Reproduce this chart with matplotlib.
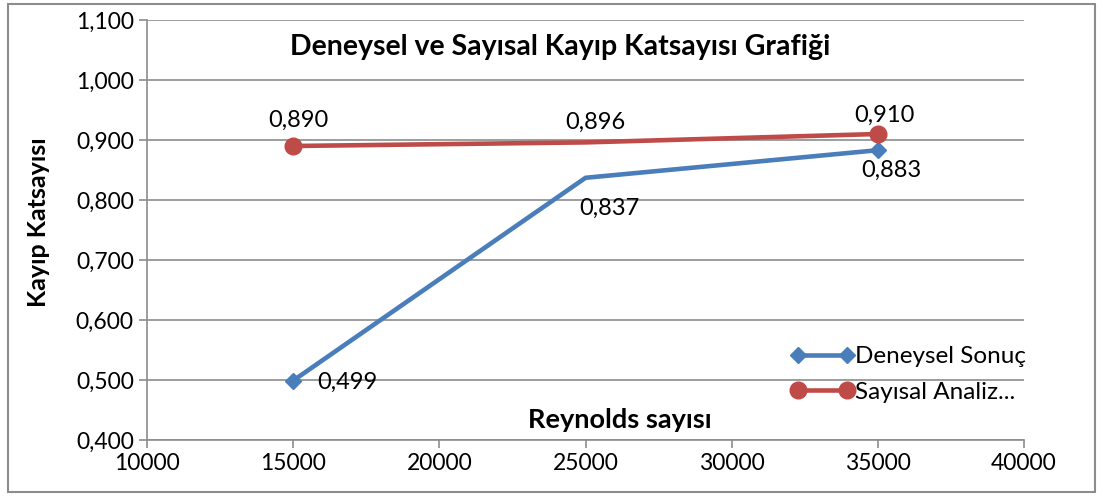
import matplotlib.pyplot as plt
from matplotlib.patches import Rectangle
from matplotlib.ticker import FuncFormatter

reynolds = [15000, 25000, 35000]
deneysel = [0.499, 0.837, 0.883]
sayisal = [0.890, 0.896, 0.910]
x_ticks = [10000, 15000, 20000, 25000, 30000, 35000, 40000]
y_ticks = [0.4, 0.5, 0.6, 0.7, 0.8, 0.9, 1.0, 1.1]

plt.rcParams['font.family'] = ['Lato', 'DejaVu Sans']

blue = '#4A7EBB'
red = '#BE4B48'
grid = '#8C8C8C'

fig = plt.figure(figsize=(11.03, 4.96), dpi=100)
ax = fig.add_axes([0.1333, 0.1129, 0.7951, 0.8468])

ax.plot(reynolds, deneysel, color=blue, lw=3.3, marker='D', ms=8, markevery=[0, 2],
        label='Deneysel Sonuç', zorder=3)
ax.plot(reynolds, sayisal, color=red, lw=3.3, marker='o', ms=12, markevery=[0, 2],
        label='Sayısal Analiz...', zorder=3)

# data labels (offsets in points)
fmt = lambda v: ('%.3f' % v).replace('.', ',')
off_red = [(3.6, 18.7), (7, 14.4), (5, 13.7)]
for x, y, (dx, dy) in zip(reynolds, sayisal, off_red):
    ax.annotate(fmt(y), (x, y), xytext=(dx, dy), textcoords='offset points',
                ha='center', va='center', fontsize=17)
off_blue = [(17, -1.4), (17, -22), (9.4, -14.4)]
for i, (x, y, (dx, dy)) in enumerate(zip(reynolds, deneysel, off_blue)):
    ax.annotate(fmt(y), (x, y), xytext=(dx, dy), textcoords='offset points',
                ha='left' if i == 0 else 'center', va='center', fontsize=17)

ax.set_xlim(10000, 40000)
ax.set_ylim(0.4, 1.1)
ax.set_xticks(x_ticks)
ax.set_yticks(y_ticks)
ax.yaxis.set_major_formatter(FuncFormatter(lambda v, p: fmt(v)))
ax.tick_params(labelsize=16.5, color=grid, length=6, width=1.2)
ax.grid(axis='y', color=grid, lw=1.2)
ax.set_axisbelow(True)
for s in ['top', 'right']:
    ax.spines[s].set_visible(False)
for s in ['left', 'bottom']:
    ax.spines[s].set_color(grid)
    ax.spines[s].set_linewidth(1.2)

ax.text(0.471, 0.936, 'Deneysel ve Sayısal Kayıp Katsayısı Grafiği', transform=ax.transAxes,
        ha='center', va='center', fontsize=20.5, fontweight='bold')
ax.text(0.539, 0.048, 'Reynolds sayısı', transform=ax.transAxes,
        ha='center', va='center', fontsize=19.5, fontweight='bold')
fig.text(0.035, 0.552, 'Kayıp Katsayısı', rotation=90, ha='center', va='center',
         fontsize=18, fontweight='bold')

ax.legend(loc='center left', bbox_to_anchor=(0.734, 0.156), frameon=False, fontsize=17.5,
          numpoints=2, handlelength=2.6, handletextpad=0.05, labelspacing=0.58,
          borderpad=0, borderaxespad=0)

fig.patches.append(Rectangle((0.007, 0.008), 0.986, 0.984, transform=fig.transFigure,
                             fill=False, ec='#8C8C8C', lw=1.5))

fig.savefig('out.png', dpi=100)
